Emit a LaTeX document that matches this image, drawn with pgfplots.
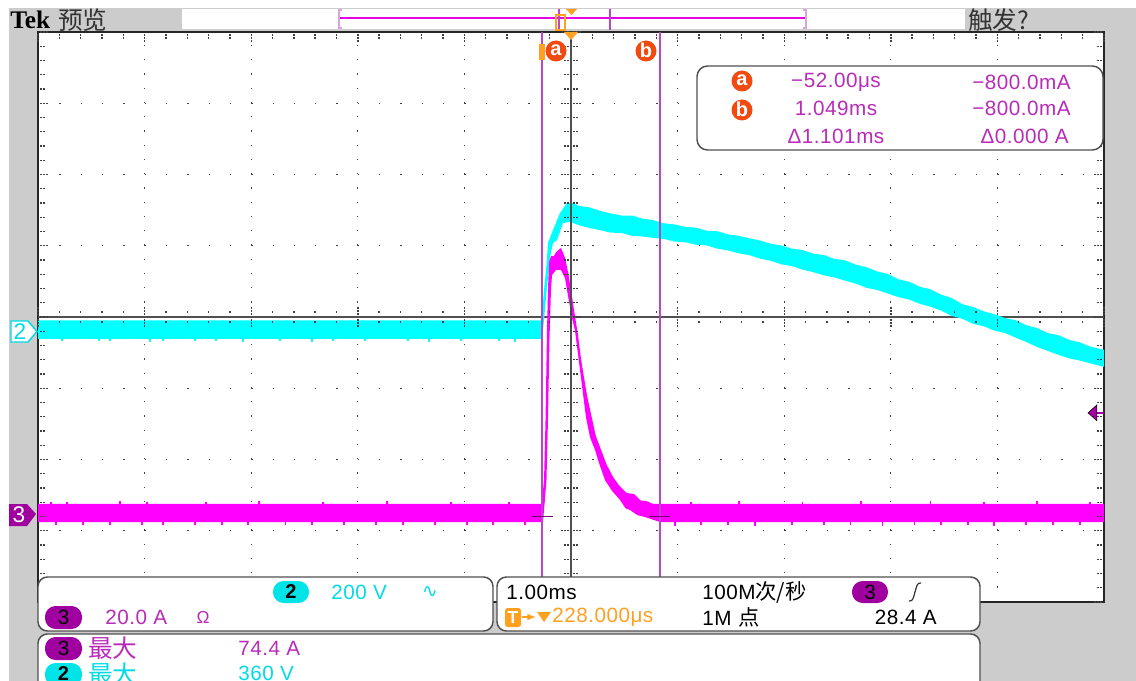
\documentclass[border=0pt]{standalone}
\usepackage{fontspec}
\usepackage{pgfplots}
\pgfplotsset{compat=1.18}
\setmainfont[LetterSpace=2.5]{Liberation Sans}
\newfontfamily\cjk{Noto Sans CJK SC}
\newfontfamily\dv{DejaVu Sans}
\newfontfamily\tekf{Liberation Serif}
\definecolor{scrgray}{HTML}{CCCCCC}
\definecolor{trcy}{HTML}{00FFFF}
\definecolor{trmg}{HTML}{FF00FF}
\definecolor{txmg}{HTML}{B82CB8}
\definecolor{txcy}{HTML}{00DCE6}
\definecolor{txor}{HTML}{FFA020}
\definecolor{pillp}{HTML}{A000A0}
\definecolor{pillc}{HTML}{00E4E8}
\definecolor{curs}{HTML}{B848C8}
\definecolor{badge}{HTML}{F04A10}
\definecolor{bord}{HTML}{505050}
\newcommand\fs{\fontsize{15.5}{15.5}\selectfont}
\newcommand\fc{\fontsize{18.5}{18.5}\selectfont\cjk}
\tikzset{px/.style={x=.75pt,y=-.75pt},
 T/.style={inner sep=0pt,anchor=west,font=\fs},
 R/.style={inner sep=0pt,anchor=east,font=\fs},
 C/.style={inner sep=0pt,anchor=center,font=\fs}}
\newcommand\bdg[3]{\fill[badge] (#1,#2) circle (10.5);\node[C,text=white,font=\fontsize{15}{15}\selectfont\bfseries] at (#1,#2-1) {#3};}
\newcommand\pill[5]{\fill[#5,rounded corners=8pt] (#1,#2) rectangle (#3,#4);}
\pgfplotsset{scr/.style={
 scale only axis,width=799.5pt,height=427.5pt,at={(28.5pt,-451.5pt)},anchor=south west,
 xmin=-4.772,xmax=5.228,clip=true}}
\begin{document}
\begin{tikzpicture}
\path[use as bounding box] (0,0) rectangle (852pt,-510.75pt);
\clip (0,0) rectangle (852pt,-510.75pt);
\begin{scope}[px]
\fill[white] (0,0) rectangle (1136,681);
\fill[scrgray] (9,8) rectangle (1136,681);
\fill[white] (182,9) rectangle (965,29);
\end{scope}
% channel 3 axis (A), graticule
\begin{axis}[scr,ymin=-24.7,ymax=135.3,
 axis background/.style={fill=white},
 axis line style={black!85,line width=1.5pt},
 xtick={-4.772,-3.772,-2.772,-1.772,-0.772,0.228,1.228,2.228,3.228,4.228,5.228},
 ytick={-24.7,-4.7,15.3,35.3,55.3,75.3,95.3,115.3,135.3},
 xticklabels={},yticklabels={},tick style={draw=none},
 grid=major,
 x grid style={black!75,line width=1pt,dash pattern=on 1pt off 9.69pt},
 y grid style={black!75,line width=1pt,dash pattern=on 1pt off 14.99pt}]
\addplot[draw=bord,line width=1.3pt] coordinates {(-4.772,55.3) (5.228,55.3)};
\end{axis}
\begin{axis}[scr,ymin=-757.9,ymax=842.1,hide axis]
% channel 2 (V)
\addplot[fill=trcy,draw=none] coordinates {
(-4.772,32.3)(-0.052,32.3)(-0.04,62)(-0.025,118)(0,194)(0.012,250)(0.059,286)(0.125,334)(0.19,362)(0.25,362)
(0.3,354)(0.4,350)(0.5,340)(0.6,333)(0.7,327)(0.8,327)(0.9,318)(1.0,314)(1.1,305)(1.2,302)(1.3,295)(1.4,293)(1.5,284)(1.6,283)(1.7,274)(1.8,270)(1.9,263)(2.0,257)(2.1,248)(2.2,243)(2.3,234)(2.4,230)(2.5,220)(2.6,216)(2.7,205)(2.8,201)(2.9,189)(3.0,182)(3.1,170)(3.2,163)(3.3,148)(3.4,141)(3.5,127)(3.6,120)(3.7,105)(3.8,95)(3.9,78)(4.0,70)(4.1,58)(4.2,50)(4.3,39)(4.4,33)(4.5,19)(4.6,11)(4.7,-3)(4.8,-9)(4.9,-22)(5.0,-29)(5.1,-41)(5.228,-50)
(5.228,-98)(5.1,-88)(5.0,-80)(4.9,-74)(4.8,-64)(4.7,-53)(4.6,-42)(4.5,-28)(4.4,-16)(4.3,-3)(4.2,4)(4.1,16)(4.0,23)(3.9,37)(3.8,45)(3.7,60)(3.6,71)(3.5,79)(3.4,91)(3.3,98)(3.2,108)(3.1,118)(3.0,124)(2.9,136)(2.8,144)(2.7,153)(2.6,159)(2.5,168)(2.4,175)(2.3,185)(2.2,190)(2.1,200)(2.0,206)(1.9,216)(1.8,221)(1.7,229)(1.6,234)(1.5,243)(1.4,245)(1.3,252)(1.2,254)(1.1,261)(1.0,264)(0.9,268)(0.8,270)(0.7,278)(0.6,279)(0.5,286)(0.4,292)(0.3,300)
(0.219,309)(0.153,306)(0.097,258)(0.059,250)(0.031,210)(0,118)(-0.025,34)(-0.044,-19.6)(-0.052,-19.6)(-4.772,-19.6)} --cycle;
% noise excursions of channel 2
\addplot[only marks,mark=|,mark size=1.5pt,draw=trcy,mark options={line width=1.5pt}] coordinates {
(-4.55,-21)(-4.2,-21)(-4.1,-21)(-3.72,-22)(-3.6,-21)(-3.3,-21)(-3.1,-21)(-2.85,-22)(-2.5,-21)(-2.2,-22)(-2.0,-21)(-1.7,-21)(-1.3,-21)(-1.1,-22)(-0.8,-21)(-0.45,-21)(-0.3,-22)};
\end{axis}
\begin{axis}[scr,ymin=-24.7,ymax=135.3,hide axis]
% channel 3 (A)
\addplot[fill=trmg,draw=none] coordinates {
(-4.772,2.81)(-0.053,2.81)(-0.044,3.93)(-0.025,9.54)(-0.011,26.4)(0.003,51.6)(0.012,62.9)(0.022,70.7)(0.040,72.4)(0.068,72.4)(0.087,73.5)(0.134,74.7)(0.172,71.9)(0.200,67.9)(0.228,62.9)(0.256,57.3)(0.294,50.2)(0.32,44)(0.343,39.6)(0.38,33)(0.422,27.2)(0.46,22)(0.5,18.8)(0.56,14)(0.622,10.4)(0.68,8)(0.75,5.9)(0.82,5.6)(0.88,3.8)(0.938,3.6)(1.0,2.81)(5.228,2.81)
(5.228,-2.25)(1.063,-2.25)(0.922,-0.84)(0.85,-0.3)(0.781,1.12)(0.74,1.6)(0.688,3.93)(0.613,6.5)(0.547,9.5)(0.491,14.3)(0.453,18.0)(0.406,21.6)(0.368,27.2)(0.322,38.2)(0.265,51.6)(0.237,55)(0.200,61.2)(0.172,66.2)(0.134,68.5)(0.087,68.5)(0.050,67.1)(0.040,62.9)(0.026,48.8)(0.012,26.4)(-0.002,9.54)(-0.021,2.5)(-0.035,-2.25)(-4.772,-2.25)} --cycle;
\addplot[only marks,mark=|,mark size=1.3pt,draw=trmg,mark options={line width=1.4pt}] coordinates {
(-4.6,-2.6)(-4.35,-2.7)(-4.1,-2.6)(-3.8,-2.5)(-3.6,-2.7)(-3.3,-2.6)(-3.05,-2.7)(-2.8,-2.6)(-2.45,-2.7)(-2.2,-2.5)(-1.9,-2.7)(-1.6,-2.6)(-1.35,-2.7)(-1.05,-2.6)(-0.75,-2.7)(-0.5,-2.6)(-0.2,-2.7)
(1.2,-2.8)(1.45,-2.6)(1.7,-2.7)(1.95,-2.8)(2.3,-2.6)(2.6,-2.7)(2.85,-2.6)(3.15,-2.8)(3.45,-2.6)(3.7,-2.7)(3.95,-2.6)(4.2,-2.8)(4.5,-2.7)(4.75,-2.6)(5.0,-2.7)
(-4.65,3.0)(-4.5,3.0)(-4.0,3.1)(-3.75,3.0)(-3.2,3.0)(-2.7,3.1)(-2.1,3.0)(-1.5,3.1)(-0.9,3.0)(-0.35,3.0)(1.35,3.0)(1.8,3.1)(2.4,3.0)(2.95,3.1)(3.6,3.2)(4.1,3.0)(4.6,3.1)(5.1,3.0)};
% cursors and trigger level
\addplot[draw=curs,line width=1.1pt] coordinates {(-0.044,-24.7)(-0.044,135.3)};
\addplot[draw=curs,line width=1.1pt] coordinates {(1.063,-24.7)(1.063,135.3)};
\addplot[draw=pillp!70!black,line width=.7pt] coordinates {(-0.138,-0.8)(0.06,-0.8)};
\addplot[draw=pillp!70!black,line width=.7pt] coordinates {(0.96,-0.8)(1.157,-0.8)};
\addplot[draw=pillp,line width=1.1pt] coordinates {(5.15,28.4)(5.228,28.4)};
\addplot[only marks,mark=triangle*,mark size=6.9pt,mark options={rotate=90,yscale=.65,fill=pillp,draw=none}] coordinates {(5.134,28.4)};
\end{axis}
\begin{scope}[px]
% centre vertical over traces
\draw[bord,line width=1.3pt] (571,32) -- (571,577);
% frame and centre-line graticule ticks
\foreach \k in {0,...,40}{
 \pgfmathsetmacro\yy{32+14.25*\k}
 \pgfmathtruncatemacro\mj{mod(\k,5)==0}
 \ifnum\mj=1
  \foreach \d in {-9,-6,-3,3,6,9}{\fill[black!75] (571+\d-.7,\yy-.7) rectangle (571+\d+.7,\yy+.7);}
  \foreach \d in {3,6,9}{\fill[black!75] (38+\d-.7,\yy-.7) rectangle (38+\d+.7,\yy+.7);\fill[black!75] (1104-\d-.7,\yy-.7) rectangle (1104-\d+.7,\yy+.7);}
 \else
  \foreach \d in {-6,-3,3,6}{\fill[black!75] (571+\d-.7,\yy-.7) rectangle (571+\d+.7,\yy+.7);}
  \foreach \d in {3,6}{\fill[black!75] (38+\d-.7,\yy-.7) rectangle (38+\d+.7,\yy+.7);\fill[black!75] (1104-\d-.7,\yy-.7) rectangle (1104-\d+.7,\yy+.7);}
 \fi}
\foreach \k in {0,...,50}{
 \pgfmathsetmacro\xx{38+21.32*\k}
 \pgfmathtruncatemacro\mj{mod(\k,5)==0}
 \ifnum\mj=1
  \foreach \d in {-9,-6,-3,3,6,9}{\fill[black!75] (\xx-.7,317+\d-.7) rectangle (\xx+.7,317+\d+.7);}
  \foreach \d in {3,6,9}{\fill[black!75] (\xx-.7,32+\d-.7) rectangle (\xx+.7,32+\d+.7);}
 \else
  \foreach \d in {-5,5}{\fill[black!75] (\xx-.7,317+\d-.7) rectangle (\xx+.7,317+\d+.7);}
  \foreach \d in {3,6}{\fill[black!75] (\xx-.7,32+\d-.7) rectangle (\xx+.7,32+\d+.7);}
 \fi}
% top bar
\node[inner sep=0pt,anchor=west,font=\fontsize{19}{19}\selectfont\tekf\bfseries] at (10,20) {Tek};
\node[T,font=\fc,text=black!80] at (58,20) {预览};
\node[T,font=\fc,text=black!80] at (968,20) {触发?};
\draw[trmg!90!black,line width=1.5pt] (340,18.5) -- (805,18.5);
\draw[curs!50!white,line width=1.6pt] (342,10) -- (339,10) -- (339,28) -- (342,28);
\draw[curs!50!white,line width=1.6pt] (803,10) -- (806,10) -- (806,28) -- (803,28);
\draw[curs,line width=1pt] (559,9) -- (559,30);
\draw[curs,line width=1pt] (610,9) -- (610,30);
\draw[txor,line width=1.2pt] (556,15) rectangle (565,30);
\fill[txor] (566,9) -- (577,9) -- (571.5,15) -- cycle;
\fill[txor] (564,32) -- (578,32) -- (571,40) -- cycle;
% cursor badges
\fill[txor] (539,44) rectangle (545,60);
\bdg{556}{51}{a}
\bdg{646}{51}{b}
% cursor readout
\draw[bord,fill=white,line width=1.1pt,rounded corners=8pt] (697,66) rectangle (1103,150);
\bdg{742}{81}{a}
\bdg{742}{110}{b}
\node[C,text=txmg] at (836,82) {\textminus 52.00μs};
\node[C,text=txmg] at (836,108) {1.049ms};
\node[C,text=txmg] at (836,136) {Δ1.101ms};
\node[R,text=txmg] at (1071,82) {\textminus 800.0mA};
\node[R,text=txmg] at (1071,108) {\textminus 800.0mA};
\node[R,text=txmg] at (1069,136) {Δ0.000 A};
% channel markers
\draw[txcy,fill=white,line width=1.1pt] (11,321) -- (28,321) -- (37,331.5) -- (28,342) -- (11,342) -- cycle;
\node[C,text=txcy,font=\fontsize{17}{17}\selectfont] at (20,331.5) {2};
\fill[pillp] (9,504) -- (27,504) -- (36,514) -- (27,526) -- (9,526) -- cycle;
\node[C,text=white,font=\fontsize{17}{17}\selectfont] at (19,515) {3};
% lower panels
\draw[bord,fill=white,line width=1.1pt,rounded corners=7pt] (38,577) rectangle (493,631);
\draw[bord,fill=white,line width=1.1pt,rounded corners=7pt] (497,577) rectangle (980,631);
\draw[bord,fill=white,line width=1.1pt,rounded corners=7pt] (38,700) -- (38,634) -- (980,634) -- (980,700);
\pill{273}{581}{309}{603}{pillc}
\node[C,font=\fontsize{15}{15}\selectfont\bfseries] at (291,592) {2};
\node[T,text=txcy] at (331,592) {200 V};
\node[C,text=txcy,font=\fontsize{14}{14}\selectfont\dv] at (430,592) {∿};
\pill{45}{606}{82}{629}{pillp}
\node[C] at (63.5,617.5) {3};
\node[T,text=txmg] at (105,617) {20.0 A};
\node[C,text=txmg,font=\fontsize{13}{13}\selectfont] at (203,617) {Ω};
\node[T] at (506,592) {1.00ms};
\node[T] at (702,592) {100M{\fontsize{16}{16}\selectfont\cjk 次/秒}};
\pill{852}{581}{888}{603}{pillp}
\node[C] at (870,592) {3};
\draw[black!80,line width=.9pt] (909,601) .. controls (913,601) and (913,599) .. (915,592) .. controls (917,585) and (917,583) .. (921,583);
\fill[txor,rounded corners=2pt] (505,608) rectangle (521,627);
\node[C,text=white,font=\fontsize{13}{13}\selectfont\bfseries] at (513,617.5) {T};
\draw[txor,line width=1.2pt,-{latex}] (522,617) -- (536,617);
\fill[txor] (537,612) -- (551,612) -- (544,622) -- cycle;
\node[T,text=txor] at (552,617) {228.000μs};
\node[T] at (702,617) {1M\,\,{\fontsize{16}{16}\selectfont\cjk 点}};
\node[R] at (937,617) {28.4 A};
\pill{45}{637}{82}{660}{pillp}
\node[C] at (63.5,648.5) {3};
\node[T,font=\fc,text=txmg] at (88,648) {最大};
\node[T,text=txmg] at (238,648) {74.4 A};
\pill{45}{663}{82}{686}{pillc}
\node[C,font=\fontsize{15}{15}\selectfont\bfseries] at (63.5,674) {2};
\node[T,font=\fc,text=txcy] at (88,674) {最大};
\node[T,text=txcy] at (238,673) {360 V};
\end{scope}
\end{tikzpicture}
\end{document}
